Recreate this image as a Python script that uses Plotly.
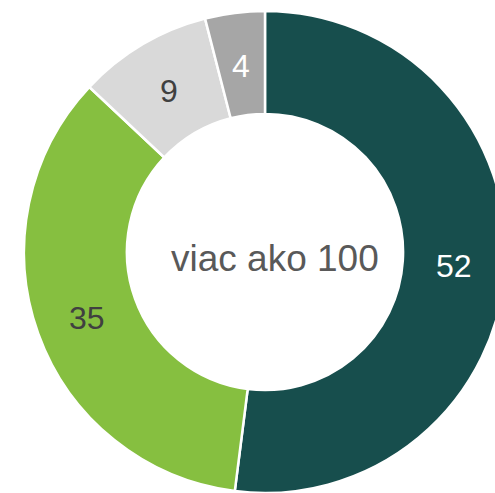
import math
import plotly.graph_objects as go

categories = ["A", "B", "C", "D"]
values = [52, 35, 9, 4]
colors = ["#174E4D", "#86BF40", "#D9D9D9", "#A6A6A6"]
label_colors = ["#FFFFFF", "#404040", "#404040", "#FFFFFF"]
center_text = "viac ako 100"

W, H = 530, 493
cx, cy, r = 265, 252, 241
hole = 0.573

fig = go.Figure(go.Pie(
    labels=categories,
    values=values,
    textinfo="none",
    marker=dict(colors=colors, line=dict(color="#FFFFFF", width=2.5)),
    hole=hole,
    sort=False,
    direction="clockwise",
    rotation=0,
    showlegend=False,
    hoverinfo="label+value",
    domain=dict(x=[(cx - r) / W, (cx + r) / W], y=[(H - cy - r) / H, (H - cy + r) / H]),
))

# value labels at the middle of each ring segment, derived from the data
total = sum(values)
rmid = r * (1 + hole) / 2
cum = 0
for v, col in zip(values, label_colors):
    frac = (cum + v / 2) / total
    ang = math.radians(90 - 360 * frac)
    px = cx + rmid * math.cos(ang)
    py = cy - rmid * math.sin(ang) + 2
    fig.add_annotation(
        text=str(v), x=px / W, y=(H - py) / H, xref="paper", yref="paper",
        xanchor="center", yanchor="middle",
        showarrow=False, font=dict(size=32, color=col, family="Liberation Sans, Arial"),
    )
    cum += v

fig.add_annotation(
    text=center_text, x=275 / W, y=(H - 258) / H, xref="paper", yref="paper",
    xanchor="center", yanchor="middle",
    showarrow=False, font=dict(size=37, color="#595959", family="Liberation Sans, Arial"),
)

fig.update_layout(
    width=W, height=H,
    margin=dict(l=0, r=0, t=0, b=0),
    paper_bgcolor="white", plot_bgcolor="white",
)

fig.write_html(
    "out.html",
    config={"displayModeBar": False},
    post_script="document.body.style.margin='0';document.body.style.overflow='hidden';",
)
